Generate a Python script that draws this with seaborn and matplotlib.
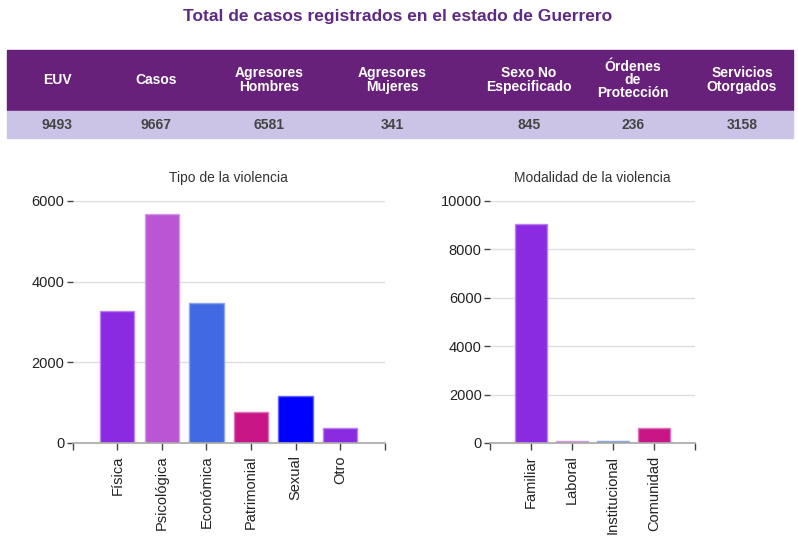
import pandas as pd
import seaborn as sns
import matplotlib.pyplot as plt
from matplotlib.patches import Rectangle

# summary table
table_headers = ["EUV", "Casos", "Agresores\nHombres", "Agresores\nMujeres",
                 "Sexo No\nEspecificado", "Órdenes\nde\nProtección", "Servicios\nOtorgados"]
table_values = ["9493", "9667", "6581", "341", "845", "236", "3158"]

# Tipo de la violencia
tipo_cats = ["Física", "Psicológica", "Económica", "Patrimonial", "Sexual", "Otro"]
tipo_vals = [3270, 5670, 3480, 775, 1155, 365]
tipo_colors = ["#8A2BE2", "#BA55D3", "#4169E1", "#C71585", "#0000FF", "#8A2BE2"]

# Modalidad de la violencia
modal_cats = ["Familiar", "Laboral", "Institucional", "Comunidad"]
modal_vals = [9030, 90, 95, 600]
modal_colors = ["#8A2BE2", "#BA55D3", "#4169E1", "#C71585"]

sns.set_theme(style="white")
plt.rcParams["font.family"] = ["Liberation Sans", "DejaVu Sans"]

W, H = 798, 536
fig = plt.figure(figsize=(W / 100, H / 100), dpi=100)

# header / table drawn in pixel coords
bg = fig.add_axes([0, 0, 1, 1])
bg.set_xlim(0, W)
bg.set_ylim(H, 0)
bg.axis("off")
bg.text(398, 17, "Total de casos registrados en el estado de Guerrero",
        ha="center", va="center", fontsize=12.5, fontweight="bold", color="#5E2A84")
bg.add_patch(Rectangle((7, 50), 786, 60, color="#68217A"))
bg.add_patch(Rectangle((7, 111), 786, 27, color="#CCC4E6"))
col_x = [57, 156, 269, 392, 529, 633, 742]
for x, hdr, val in zip(col_x, table_headers, table_values):
    bg.text(x, 80, hdr, ha="center", va="center", fontsize=10, fontweight="bold",
            color="white", linespacing=0.95)
    bg.text(x, 125, val, ha="center", va="center", fontsize=10, fontweight="bold",
            color="#444444")


def bar_panel(rect, cats, vals, colors, ymax, step, title):
    ax = fig.add_axes(rect)
    df = pd.DataFrame({"cat": cats, "val": vals})
    sns.barplot(data=df, x="cat", y="val", hue="cat", palette=colors,
                legend=False, width=0.77, saturation=1, ax=ax)
    # lighter outline around each bar
    for p in ax.patches:
        fc = p.get_facecolor()
        p.set_edgecolor(tuple(0.6 * c + 0.4 for c in fc[:3]))
        p.set_linewidth(1)
    n = len(cats)
    ax.set_xlim(-1, n)
    ax.set_ylim(0, ymax)
    ax.set_xticks(range(-1, n + 1))
    ax.set_xticklabels([""] + cats + [""], rotation=90, fontsize=10.5, color="#222222")
    ax.set_yticks(range(0, ymax + 1, step))
    ax.tick_params(axis="y", labelsize=10.5, labelcolor="#222222", length=4,
                   width=1, color="#444444", left=True, pad=2)
    ax.tick_params(axis="x", length=5, width=1, color="#444444", bottom=True, pad=4)
    ax.yaxis.grid(True, color="#DDDDDD", linewidth=1)
    ax.set_axisbelow(True)
    for s in ["top", "right", "left"]:
        ax.spines[s].set_visible(False)
    ax.spines["bottom"].set_color("#AAAAAA")
    ax.set_xlabel("")
    ax.set_ylabel("")
    ax.set_title(title, fontsize=10, color="#333333", pad=14)
    return ax


bar_panel([72.7 / W, 1 - 443 / H, 312 / W, 242 / H], tipo_cats, tipo_vals,
          tipo_colors, 6000, 2000, "Tipo de la violencia")
bar_panel([490 / W, 1 - 443 / H, 205 / W, 242 / H], modal_cats, modal_vals,
          modal_colors, 10000, 2000, "Modalidad de la violencia")

fig.savefig("out.png", dpi=100, facecolor="white")
